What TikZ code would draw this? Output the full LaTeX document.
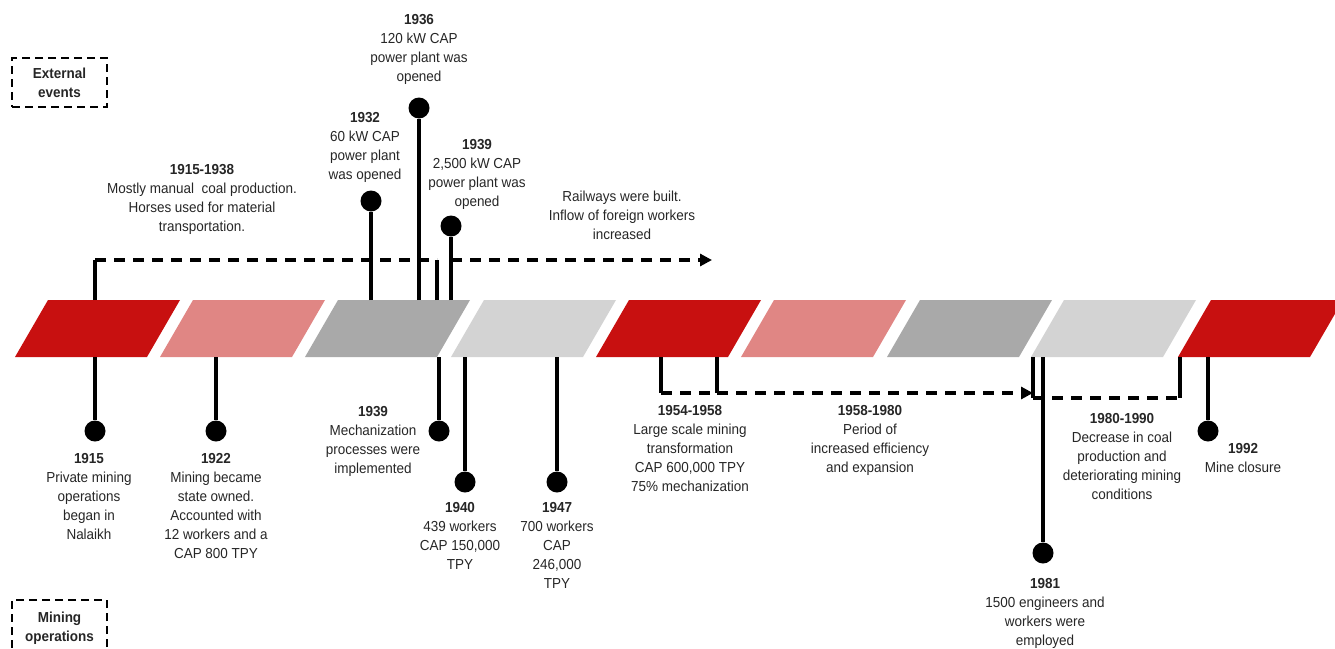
\documentclass[tikz,border=0pt]{standalone}
\usepackage{fontspec}
\setmainfont{Liberation Sans}[FakeStretch=0.93]
\usepackage{xcolor}
\usetikzlibrary{arrows.meta}
\definecolor{bandred}{HTML}{C81010}
\definecolor{bandpink}{HTML}{E08684}
\definecolor{banddark}{HTML}{A9A9A9}
\definecolor{bandlight}{HTML}{D3D3D3}
\definecolor{txt}{HTML}{262626}

\begin{document}
\begin{tikzpicture}[x=1pt,y=-1pt,
  every node/.style={font=\fontsize{14.5}{19}\selectfont, align=center, inner sep=0pt, text=txt},
  event/.style={anchor=north},
  dot/.style={circle, fill=black, minimum size=21pt},
  stem/.style={line width=3.2pt},
  span/.style={line width=3.2pt, dash pattern=on 11pt off 8pt},
  sidebox/.style={draw=black, line width=2pt, dash pattern=on 8pt off 5pt,
    minimum width=95pt, minimum height=49pt, font=\fontsize{14.5}{19}\selectfont\bfseries}]
  \useasboundingbox (0,0) rectangle (1335,648);

  \foreach \x/\c in {48/bandred, 193/bandpink, 338/banddark, 484/bandlight,
      629/bandred, 774/bandpink, 920/banddark, 1064/bandlight, 1211/bandred}
    \fill[\c] (\x,300) -- (\x+132,300) -- (\x+99,357) -- (\x-33,357) -- cycle;

  \node[sidebox] (ext) at (59.5,82.5) {External\\events};
  \node[sidebox, minimum height=56pt] (mine) at (59.5,628) {Mining\\operations};

  % external events
  \coordinate (s1915) at (95,300);
  \coordinate (s1938) at (437,300);
  \coordinate (s1932) at (371,300);
  \coordinate (s1936) at (419,300);
  \coordinate (s1939) at (451,300);
  \coordinate (rail) at (712,260);
  \node[dot] (d1932) at (371,201) {};
  \node[dot] (d1936) at (419,108) {};
  \node[dot] (d1939) at (451,226) {};
  \draw[stem] (s1932) -- (d1932);
  \draw[stem] (s1936) -- (d1936);
  \draw[stem] (s1939) -- (d1939);
  \draw[stem] (s1915) -- ++(0,-40) coordinate (k1915);
  \draw[stem] (s1938) -- ++(0,-40) coordinate (k1938);
  \draw[span] (k1915) -- (k1938);
  \draw[span, -{Triangle[length=12pt, width=12pt]}] (s1939 |- rail) -- (rail);

  \node[event] (t1936) at (419,14) {\textbf{1936}\\120 kW CAP\\power plant was\\opened};
  \node[event] (t1932) at (365,112) {\textbf{1932}\\60 kW CAP\\power plant\\was opened};
  \node[event] (t1939) at (477,139) {\textbf{1939}\\2,500 kW CAP\\power plant was\\opened};
  \node[event] (t1915) at (202,164) {\textbf{1915-1938}\\Mostly manual\ \ coal production.\\Horses used for material\\transportation.};
  \node[event] (trail) at (622,191) {Railways were built.\\Inflow of foreign workers\\increased};

  % mining operations
  \foreach \n/\x/\y in {b1915/95/431, b1922/216/431, b1939/439/431, b1940/465/482,
      b1947/557/482, b1981/1043/553, b1992/1208/431} {
    \coordinate (s\n) at (\x,357);
    \node[dot] (d\n) at (\x,\y) {};
    \draw[stem] (s\n) -- (d\n);
  }
  \coordinate (s1954) at (661,357);
  \coordinate (s1958) at (717,357);
  \coordinate (s1980) at (1033,357);
  \coordinate (s1990) at (1180,357);
  \draw[stem] (s1954) -- ++(0,36) coordinate (k1954);
  \draw[stem] (s1958) -- ++(0,36) coordinate (k1958);
  \draw[span] (k1954) -- (k1958);
  \draw[stem] (s1980) -- ++(0,41) coordinate (k1980);
  \draw[stem] (s1990) -- ++(0,41) coordinate (k1990);
  \draw[span] (k1980) -- (k1990);
  \draw[span, -{Triangle[length=12pt, width=12pt]}] (k1958) -- (k1958 -| s1980);

  \node[event] (tb1915) at (89,453) {\textbf{1915}\\Private mining\\operations\\began in\\Nalaikh};
  \node[event] (tb1922) at (216,453) {\textbf{1922}\\Mining became\\state owned.\\Accounted with\\12 workers and a\\CAP 800 TPY};
  \node[event] (tb1939) at (373,406) {\textbf{1939}\\Mechanization\\processes were\\implemented};
  \node[event] (tb1940) at (460,502) {\textbf{1940}\\439 workers\\CAP 150,000\\TPY};
  \node[event] (tb1947) at (557,502) {\textbf{1947}\\700 workers\\CAP\\246,000\\TPY};
  \node[event] (tb1954) at (690,405) {\textbf{1954-1958}\\Large scale mining\\transformation\\CAP 600,000 TPY\\75\% mechanization};
  \node[event] (tb1958) at (870,405) {\textbf{1958-1980}\\Period of\\increased efficiency\\and expansion};
  \node[event] (tb1980) at (1122,413) {\textbf{1980-1990}\\Decrease in coal\\production and\\deteriorating mining\\conditions};
  \node[event] (tb1981) at (1045,578) {\textbf{1981}\\1500 engineers and\\workers were\\employed};
  \node[event] (tb1992) at (1243,443) {\textbf{1992}\\Mine closure};
\end{tikzpicture}
\end{document}
